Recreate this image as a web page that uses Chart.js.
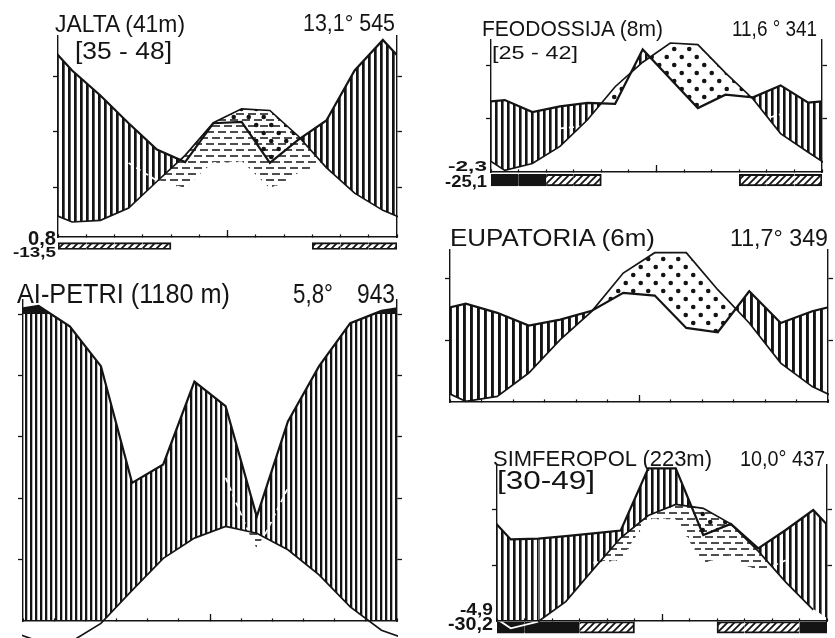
<!DOCTYPE html>
<html><head><meta charset="utf-8">
<script src="https://cdn.jsdelivr.net/npm/chart.js@4/dist/chart.umd.min.js"></script>
<style>
html,body{margin:0;padding:0;background:#fff;}
#wrap{position:relative;width:835px;height:638px;overflow:hidden;background:#fff;}
#wrap canvas{position:absolute;}
.t{position:absolute;white-space:pre;font-family:"Liberation Sans",Arial,sans-serif;color:#141414;line-height:1;transform-origin:0 0;}
.t.b{font-weight:bold;}
</style></head><body><div id="wrap"></div>
<script>
// ---------- DATA ----------
const monthNames = ['I','II','III','IV','V','VI','VII','VIII','IX','X','XI','XII'];
const monthEdges = [0,1,2,3,4,5,6,7,8,9,10,11,12];
const midTick = [6];

// frost: 0 none, 1 possible frost (hatched), 2 frost (black)
const jaltaTemp  = [3.7, 4.0, 6.2, 11.0, 15.7, 21.6, 24.1, 23.8, 19.2, 13.5, 8.9, 5.8];
const jaltaPrec  = [62, 53, 43, 33.5, 29, 43, 43.5, 28.7, 37, 44, 62, 73];
const jaltaFrost = [1,1,1,1,0,0,0,0,0,1,1,1];
const jaltaTicks = [10, 20, 30];

const aipetriTemp  = [-3.3, -3.5, -0.4, 5.0, 10.2, 13.5, 15.4, 14.3, 11.6, 7.5, 2.3, -1.5];
const aipetriPrec  = [126, 96, 83, 45, 51, 78, 70, 34, 65, 83, 97, 110];
const aipetriFrost = [0,0,0,0,0,0,0,0,0,0,0,0];
const aipetriTicks = [10, 20, 30, 40, 50];

const feodTemp  = [0.3, 1.6, 4.8, 9.8, 16.0, 20.6, 24.2, 23.9, 18.6, 13.7, 7.2, 3.7];
const feodPrec  = [27, 22.5, 24.6, 25.9, 25.6, 46, 35, 24, 29, 28, 32.5, 26];
const feodFrost = [2,2,1,1,0,0,0,0,0,1,1,1];
const feodTicks = [10, 20];

const eupTemp  = [0.1, 0.9, 4.7, 10.1, 14.7, 20.9, 24.2, 24.2, 18.2, 12.8, 6.3, 2.5];
const eupPrec  = [31.9, 28.9, 24.8, 26.7, 29.6, 35.4, 34.5, 24, 22.6, 35.9, 25.6, 29.4];
const eupFrost = [0,0,0,0,0,0,0,0,0,0,0,0];
const eupTicks = [10, 20];

const simfTemp  = [-1.3, -0.1, 3.5, 9.3, 15.0, 19.0, 21.0, 20.3, 17.5, 12.6, 7.0, 2.0];
const simfPrec  = [29.4, 29.7, 30.6, 31.6, 32.6, 55, 55, 31, 35, 26.2, 32.8, 40];
const simfFrost = [2,2,2,1,1,0,0,0,1,1,1,2];
const simfTicks = [10, 20];

// ---------- LAYOUT / STYLE ----------
const panels = [
  {temp: jaltaTemp, prec: jaltaPrec, frost: jaltaFrost, ticks: jaltaTicks,
   left: 58, right: 397, top: 36, zero: 243, ppu: 5.55, yMin: 1,
   dashes: true, p3Line: true, cap: false, hatch: 6, hatchW: 2.7, bar: [0, -1.26], whiteBelow: false,
   texts: [['JALTA (41m)', 55, 185, 15, 32.3], ['[35 - 48]', 75, 172, 43.5, 60], ['13,1° 545', 303, 395, 15, 31.7],
           ['0,8', 28, 56, 232, 246, 1], ['-13,5', 13, 56, 246, 257, 1]]},
  {temp: aipetriTemp, prec: aipetriPrec, frost: aipetriFrost, ticks: aipetriTicks,
   left: 23, right: 397, top: 300, zero: 621, ppu: 6.14, yMin: 0,
   dashes: true, p3Line: true, cap: true, hatch: 5, hatchW: 2.3, bar: [0, -1], whiteBelow: false,
   texts: [['AI-PETRI (1180 m)', 17, 230, 285, 304.3], ['5,8°', 293, 333, 285, 304.3], ['943', 357, 395, 285, 304.3]]},
  {temp: feodTemp, prec: feodPrec, frost: feodFrost, ticks: feodTicks,
   left: 491, right: 822, top: 40, zero: 172, ppu: 5.33, yMin: 0,
   dashes: false, p3Line: true, cap: false, hatch: 6, hatchW: 2.6, bar: [-0.43, -2.6], whiteBelow: false,
   texts: [['FEODOSSIJA (8m)', 482, 663, 20.7, 36.7], ['11,6 ° 341', 732, 817, 20.7, 36.7], ['[25 - 42]', 492, 578, 46.7, 60],
           ['-2,3', 448, 487, 160.7, 171, 1], ['-25,1', 445, 487, 175.5, 187, 1]]},
  {temp: eupTemp, prec: eupPrec, frost: eupFrost, ticks: eupTicks,
   left: 450, right: 828, top: 250, zero: 402, ppu: 6.17, yMin: 0,
   dashes: false, p3Line: false, cap: false, hatch: 7, hatchW: 2.9, bar: [0, -1], whiteBelow: false,
   texts: [['EUPATORIA (6m)', 450, 655, 229.3, 246.7], ['11,7° 349', 730, 828, 229.3, 246.7]]},
  {temp: simfTemp, prec: simfPrec, frost: simfFrost, ticks: simfTicks,
   left: 497, right: 827, top: 465, zero: 621, ppu: 5.55, yMin: 0,
   dashes: true, p3Line: true, cap: false, hatch: 6, hatchW: 2.6, bar: [-0.13, -2.2], whiteBelow: true,
   texts: [['SIMFEROPOL (223m)', 493, 712, 450.7, 466.7], ['10,0° 437', 740, 825, 450.7, 466.7], ['[30-49]', 497, 595, 471.7, 490],
           ['-4,9', 460, 493, 604, 616, 1], ['-30,2', 448, 493, 617, 630, 1]]}
];

const INK = '#141414';
const padL = 8, padR = 8, padT = 3, padB = 17;

// ---------- helpers ----------
function plotP2(p){ return p <= 100 ? p / 2 : 50 + (p - 100) / 20; }
function plotP3(p){ return p / 3; }
function wrapSeries(vals, f){
  const pts = vals.map((v, i) => ({x: i + 0.5, y: f(v)}));
  return [{x: -0.5, y: f(vals[11])}].concat(pts, [{x: 12.5, y: f(vals[0])}]);
}
function mk(w, h){ const c = document.createElement('canvas'); c.width = w; c.height = h; return c; }
function hatchPattern(ctx, period, lw){
  const c = mk(period, 4), g = c.getContext('2d');
  g.fillStyle = INK; g.fillRect(0, 0, lw, 4);
  return ctx.createPattern(c, 'repeat');
}
function dotPattern(ctx){
  const w = 15, h = 16, c = mk(w, h), g = c.getContext('2d');
  g.fillStyle = INK;
  [[3.75, 4], [11.25, 12]].forEach(([x, y]) => { g.beginPath(); g.arc(x, y, 2.3, 0, Math.PI * 2); g.fill(); });
  return ctx.createPattern(c, 'repeat');
}
function dashPattern(ctx){
  const w = 12, h = 12, c = mk(w, h), g = c.getContext('2d');
  g.strokeStyle = INK; g.lineWidth = 1.4;
  g.beginPath();
  g.moveTo(0, 3); g.lineTo(8, 3);
  g.moveTo(6, 9); g.lineTo(12, 9);
  g.moveTo(0, 9); g.lineTo(2, 9);
  g.stroke();
  return ctx.createPattern(c, 'repeat');
}
function diagPattern(ctx){
  const s = 7, c = mk(s, s), g = c.getContext('2d');
  g.strokeStyle = INK; g.lineWidth = 1.8;
  g.beginPath();
  g.moveTo(0, s); g.lineTo(s, 0);
  g.moveTo(-1, 1); g.lineTo(1, -1);
  g.moveTo(s - 1, s + 1); g.lineTo(s + 1, s - 1);
  g.stroke();
  return ctx.createPattern(c, 'repeat');
}

const wrap = document.getElementById('wrap');

function addText(s, x0, x1, capTop, base, bold){
  const fs = (base - capTop) / 0.716;
  const d = document.createElement('div');
  d.className = bold ? 't b' : 't'; d.textContent = s;
  d.style.fontSize = fs + 'px';
  d.style.left = x0 + 'px';
  d.style.top = (capTop - 0.1305 * fs) + 'px';
  wrap.appendChild(d);
  const w = d.getBoundingClientRect().width;
  d.style.transform = 'scaleX(' + ((x1 - x0) / w) + ')';
}

function buildPanel(cfg){
  const bottomPx = Math.round(cfg.zero - cfg.yMin * cfg.ppu);
  const yMax = cfg.yMin + (bottomPx - cfg.top) / cfg.ppu;
  const W = cfg.right - cfg.left + padL + padR;
  const H = bottomPx - cfg.top + padT + padB;
  const cv = document.createElement('canvas');
  cv.width = W; cv.height = H;
  cv.style.left = (cfg.left - padL) + 'px';
  cv.style.top = (cfg.top - padT) + 'px';
  cv.style.width = W + 'px'; cv.style.height = H + 'px';
  wrap.appendChild(cv);
  const ctx = cv.getContext('2d');

  const hatch = hatchPattern(ctx, cfg.hatch, cfg.hatchW);
  const dots = dotPattern(ctx);
  const dashes = dashPattern(ctx);
  const diag = diagPattern(ctx);

  const tSeries = wrapSeries(cfg.temp, v => v);
  const p2Series = wrapSeries(cfg.prec, plotP2);
  const p3Series = wrapSeries(cfg.prec, plotP3);
  const diff = p3Series.map((p, i) => p.y - tSeries[i].y);

  const datasets = [];
  datasets.push({
    label: 'T', data: tSeries, borderColor: INK, borderWidth: 1.7, pointRadius: 0, tension: 0,
    fill: false, order: 0, clip: {left: 1, right: 1, top: 1, bottom: false},
    segment: {
      borderColor: c => (cfg.whiteBelow && Math.min(tSeries[c.p0DataIndex].y, tSeries[c.p1DataIndex].y) < -0.5) ? '#fff' : INK
    }
  });
  datasets.push({
    label: 'P', data: p2Series, borderColor: INK, borderWidth: 2.2, pointRadius: 0, tension: 0,
    fill: {target: 0, above: hatch, below: dots}, order: 3
  });
  if (cfg.cap) {
    datasets.push({
      label: 'P>100', data: p2Series, borderWidth: 0, borderColor: 'rgba(0,0,0,0)', pointRadius: 0, tension: 0,
      fill: {target: {value: 50}, above: INK, below: 'rgba(0,0,0,0)'}, order: 2
    });
  }
  if (cfg.p3Line || cfg.dashes) {
    datasets.push({
      label: 'P/3', data: p3Series, borderWidth: cfg.p3Line ? 1.7 : 0, borderDash: [5, 4], pointRadius: 0, tension: 0,
      borderColor: '#fff',
      fill: cfg.dashes ? {target: 0, above: 'rgba(0,0,0,0)', below: dashes} : false, order: 4,
      segment: {
        borderColor: c => (cfg.p3Line && Math.min(diff[c.p0DataIndex], diff[c.p1DataIndex]) < 1) ? '#fff' : 'rgba(0,0,0,0)'
      }
    });
  }
  if (cfg.frost.some(f => f)) {
    const fr = cfg.frost, bw = 1.3;
    datasets.push({
      type: 'bar', label: 'frost', xAxisID: 'xb', yAxisID: 'y',
      data: fr.map(f => f ? [cfg.bar[0], cfg.bar[1]] : null),
      backgroundColor: fr.map(f => f === 2 ? INK : diag),
      borderColor: INK,
      borderWidth: fr.map((f, i) => f ? {top: bw, bottom: bw,
        left: (i === 0 || !fr[i - 1]) ? bw : 0, right: (i === 11 || !fr[i + 1]) ? bw : 0} : 0),
      borderSkipped: false, barPercentage: 1, categoryPercentage: 1, grouped: false,
      clip: {left: 0, right: 0, top: 0, bottom: false}, order: 5
    });
  }

  const yTicks = s => { s.ticks = cfg.ticks.map(v => ({value: v})); };
  const yAxis = (pos) => ({
    type: 'linear', position: pos, min: cfg.yMin, max: yMax,
    afterBuildTicks: yTicks,
    afterFit: s => { s.width = pos === 'left' ? padL : padR; },
    ticks: {display: false},
    grid: {drawOnChartArea: false, drawTicks: true, tickLength: 5, tickColor: INK, tickWidth: 1.3, z: 2},
    border: {display: true, color: INK, width: 1.4, z: 2}
  });

  new Chart(ctx, {
    type: 'line',
    data: {datasets},
    options: {
      responsive: false, animation: false, devicePixelRatio: 1, events: [],
      layout: {padding: {top: padT, bottom: padB, left: 0, right: 0}},
      plugins: {legend: {display: false}, tooltip: {enabled: false}, title: {display: false},
                filler: {drawTime: 'beforeDatasetsDraw'}},
      scales: {
        x: {type: 'linear', min: 0, max: 12, position: {y: cfg.yMin},
            afterBuildTicks: s => { s.ticks = monthEdges.map(v => ({value: v})); },
            ticks: {display: false},
            grid: {drawOnChartArea: false, drawTicks: true, tickLength: -3, tickColor: INK, tickWidth: 1.2, z: 2},
            border: {display: true, color: INK, width: 1.4, z: 2}},
        xm: {type: 'linear', min: 0, max: 12, position: {y: cfg.yMin},
            afterBuildTicks: s => { s.ticks = midTick.map(v => ({value: v})); },
            ticks: {display: false},
            grid: {drawOnChartArea: false, drawTicks: true, tickLength: -7, tickColor: INK, tickWidth: 1.3, z: 2},
            border: {display: false}},
        xb: {type: 'category', labels: monthNames, offset: true, display: false},
        y: yAxis('left'),
        yR: yAxis('right')
      }
    }
  });

  cfg.texts.forEach(t => addText(t[0], t[1], t[2], t[3], t[4], t[5]));
}

panels.forEach(buildPanel);
</script>
</body></html>
